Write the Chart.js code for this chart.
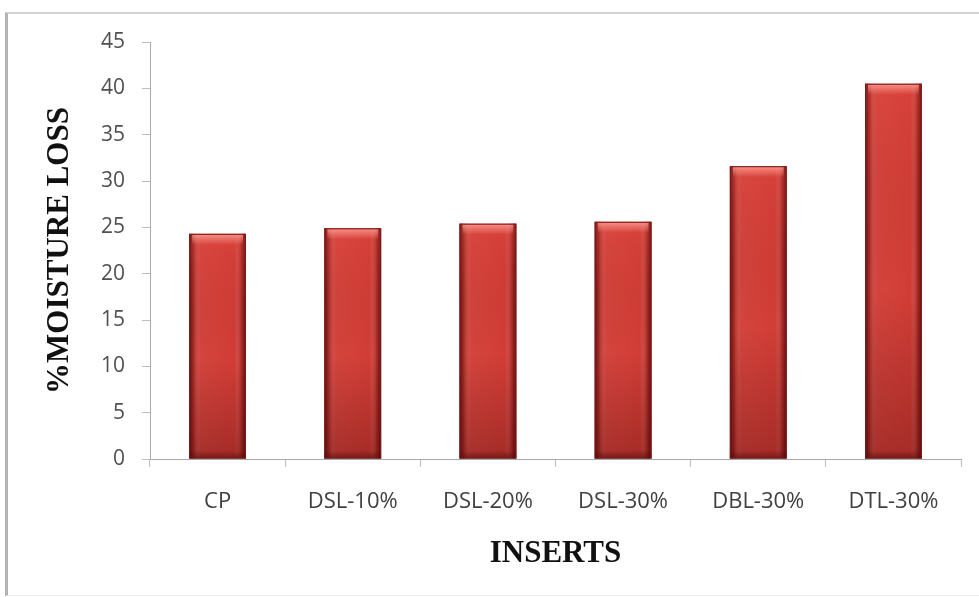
<!DOCTYPE html>
<html>
<head>
<meta charset="utf-8">
<script src="https://cdn.jsdelivr.net/npm/chart.js@4"></script>
<style>
  body { margin: 0; background: #fff; }
  #wrap { position: relative; width: 979px; height: 597px; }
  #frame {
    position: absolute; left: 5px; top: 12px; right: 0; bottom: 1px;
    border-left: 3px solid #b3b3b3; border-top: 2px solid #d2d2d2;
    border-bottom: 1px solid #eeeeee; pointer-events: none;
  }
</style>
</head>
<body>
<div id="wrap">
  <canvas id="moistureChart" width="979" height="597"></canvas>
  <div id="frame"></div>
</div>
<script>
const inserts = ["CP", "DSL-10%", "DSL-20%", "DSL-30%", "DBL-30%", "DTL-30%"];
const moistureLoss = [24.3, 24.9, 25.4, 25.6, 31.6, 40.5];
const yTicks = [0, 5, 10, 15, 20, 25, 30, 35, 40, 45];

const ctx = document.getElementById("moistureChart").getContext("2d");

// bevelled shading on top of each plain red bar
const barShade = {
  id: "barShade",
  afterDatasetsDraw(chart) {
    const c = chart.ctx;
    c.save();
    chart.getDatasetMeta(0).data.forEach(function (bar) {
      const p = bar.getProps(["x", "y", "base", "width"], true);
      const l = p.x - p.width / 2, w = p.width, top = p.y, h = p.base - p.y;

      let g = c.createLinearGradient(l, 0, l + w, 0);
      g.addColorStop(0, "rgba(80,8,8,0.85)");
      g.addColorStop(0.08, "rgba(80,8,8,0.3)");
      g.addColorStop(0.2, "rgba(255,255,255,0.04)");
      g.addColorStop(0.8, "rgba(255,255,255,0.0)");
      g.addColorStop(0.92, "rgba(80,8,8,0.3)");
      g.addColorStop(1, "rgba(80,8,8,0.85)");
      c.fillStyle = g;
      c.fillRect(l, top, w, h);

      g = c.createLinearGradient(0, top, 0, p.base);
      g.addColorStop(0, "rgba(255,90,80,0.15)");
      g.addColorStop(0.55, "rgba(60,0,0,0.0)");
      g.addColorStop(1, "rgba(60,0,0,0.3)");
      c.fillStyle = g;
      c.fillRect(l, top, w, h);

      // light bevel along the top
      g = c.createLinearGradient(0, top, 0, top + 11);
      g.addColorStop(0, "rgba(255,160,150,0.85)");
      g.addColorStop(1, "rgba(255,160,150,0)");
      c.fillStyle = g;
      c.fillRect(l + 3, top + 1, w - 6, 11);

      // dark band along the base
      g = c.createLinearGradient(0, p.base - 8, 0, p.base);
      g.addColorStop(0, "rgba(70,5,5,0)");
      g.addColorStop(1, "rgba(70,5,5,0.5)");
      c.fillStyle = g;
      c.fillRect(l, p.base - 8, w, 8);

      c.strokeStyle = "#7a1d1d";
      c.lineWidth = 1;
      c.strokeRect(l + 0.5, top + 0.5, w - 1, h - 1);
    });
    c.restore();
  }
};

new Chart(ctx, {
  type: "bar",
  data: {
    labels: inserts,
    datasets: [
      {
        label: "% Moisture loss",
        data: moistureLoss,
        backgroundColor: "#d23d36",
        borderWidth: 0,
        barPercentage: 0.42,
        categoryPercentage: 1.0,
      },
    ],
  },
  options: {
    responsive: false,
    animation: false,
    layout: { padding: { top: 42, right: 18, left: 0, bottom: 0 } },
    plugins: { legend: { display: false }, tooltip: { enabled: false } },
    scales: {
      x: {
        grid: {
          offset: true,
          drawOnChartArea: false,
          drawTicks: true,
          tickLength: 8,
          color: "#bdbdbd",
        },
        border: { color: "#a9a9a9", width: 1 },
        ticks: {
          color: "#404040",
          font: { family: "'Open Sans', sans-serif", size: 22 },
          padding: 22,
          maxRotation: 0,
          autoSkip: false,
        },
        title: {
          display: true,
          text: "INSERTS",
          color: "#111",
          font: { family: "'Liberation Serif', serif", size: 31, weight: "bold" },
          padding: { top: 0, bottom: 24 },
        },
        afterFit(scale) {
          scale.height = 138;
        },
      },
      y: {
        min: 0,
        max: 45,
        afterBuildTicks(scale) {
          scale.ticks = yTicks.map(function (v) { return { value: v }; });
        },
        grid: {
          drawOnChartArea: false,
          drawTicks: true,
          tickLength: 8,
          color: "#bdbdbd",
        },
        border: { color: "#a9a9a9", width: 1 },
        ticks: {
          color: "#505050",
          font: { family: "'Open Sans', sans-serif", size: 21 },
          padding: 17,
        },
        title: {
          display: true,
          text: "%MOISTURE LOSS",
          color: "#111",
          font: { family: "'Liberation Serif', serif", size: 31, weight: "bold" },
          padding: { top: 41, bottom: 0 },
        },
        afterFit(scale) {
          scale.width = 150;
        },
      },
    },
  },
  plugins: [barShade],
});
</script>
</body>
</html>
